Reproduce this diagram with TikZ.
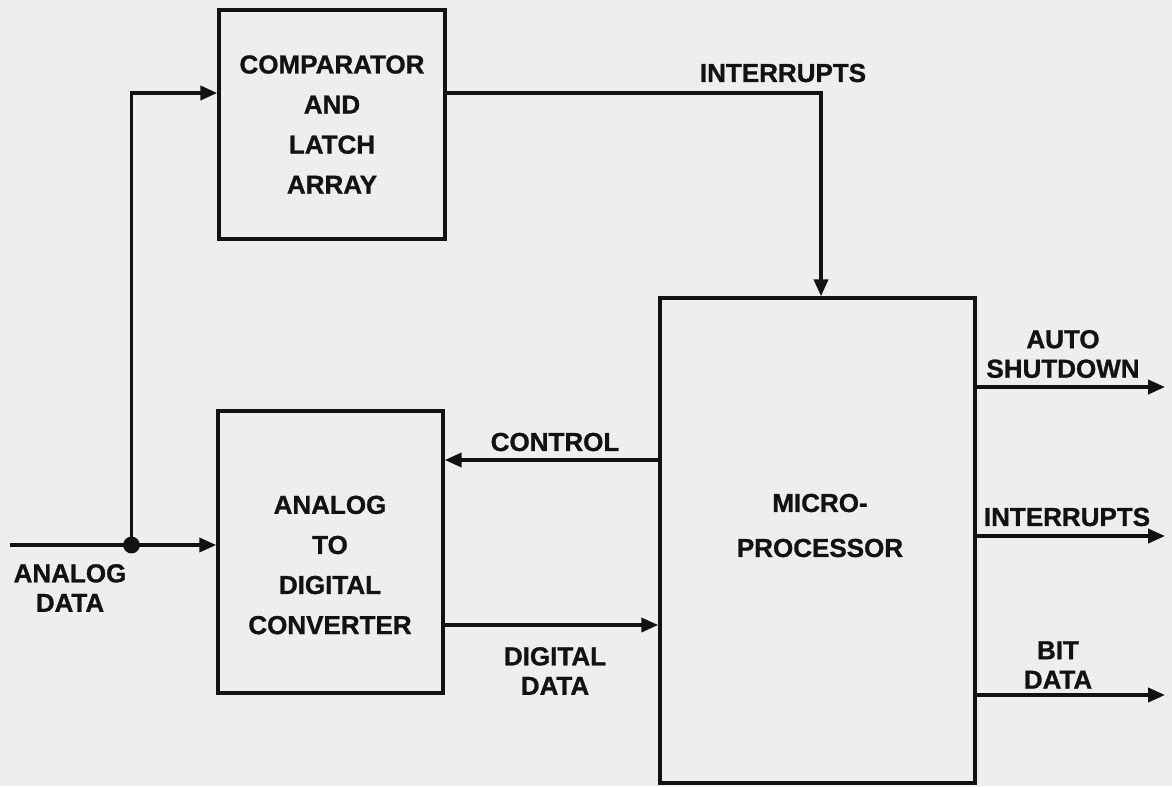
\documentclass[tikz,border=0pt]{standalone}
\usepackage{fontspec}
\setmainfont{Liberation Sans}[BoldFeatures={FakeBold=1}]
\usepackage{xcolor}
\usetikzlibrary{arrows.meta, positioning, calc}
\definecolor{paper}{HTML}{EEEEEC}
\definecolor{ink}{HTML}{121212}

\begin{document}
\begin{tikzpicture}[
    >={Triangle[length=12pt,width=10pt]},
    line width=2.5pt,
    color=ink,
    font=\fontsize{18.5}{28.5}\selectfont\bfseries,
    block/.style={draw, rectangle, align=center, inner sep=0pt},
    boxtext/.style={align=center, inner sep=0pt},
    sig/.style={align=center, inner sep=0pt, font=\fontsize{18.5}{21}\selectfont\bfseries}
  ]
  \fill[paper] (0,0) rectangle (29.3,-19.65);

  % blocks
  \node (comp) [block, minimum width=5.65cm, minimum height=5.725cm] at (8.3,-3.1125) {COMPARATOR\\AND\\LATCH\\ARRAY};
  \node (adc) [block, minimum width=5.625cm, minimum height=7.05cm] at (8.2625,-13.8) {};
  \node (adctext) [boxtext] at (8.25,-14.125) {ANALOG\\TO\\DIGITAL\\CONVERTER};
  \node (micro) [block, minimum width=7.875cm, minimum height=12.125cm] at (20.4375,-13.5125) {};
  \node (microtext) [boxtext, font=\fontsize{18.5}{32}\selectfont\bfseries] at (20.5,-13.1375) {MICRO-\\PROCESSOR};

  % connector ends and levels
  \coordinate (ain) at (0.25,-13.625);
  \coordinate (tap) at (3.2875,-13.625);
  \coordinate (ctop) at (3.2875,-2.325);
  \coordinate (ibend) at (20.525,-2.325);
  \coordinate (ctrly) at (0,-11.5);
  \coordinate (datay) at (0,-15.625);
  \coordinate (aout) at (29.125,-9.675);
  \coordinate (iout) at (29.125,-13.4);
  \coordinate (bout) at (29.125,-17.375);

  \draw[->] (ain) -- (ain -| adc.west);
  \fill (tap) circle (0.21);
  \draw[->] (tap) -- (ctop) -- (ctop -| comp.west);
  \draw[->] (ctop -| comp.east) -- (ibend) -- (ibend |- micro.north);
  \draw[->] (micro.west |- ctrly) -- (adc.east |- ctrly);
  \draw[->] (adc.east |- datay) -- (micro.west |- datay);
  \draw[->] (micro.east |- aout) -- (aout);
  \draw[->] (micro.east |- iout) -- (iout);
  \draw[->] (micro.east |- bout) -- (bout);

  % signal labels
  \node (analog) [sig] at (1.75,-14.7) {ANALOG\\DATA};
  \node (intin) [sig] at (19.575,-1.825) {INTERRUPTS};
  \node (ctrl) [sig] at (13.875,-11.05) {CONTROL};
  \node (digital) [sig] at (13.875,-16.775) {DIGITAL\\DATA};
  \node (shut) [sig] at (26.575,-8.85) {AUTO\\SHUTDOWN};
  \node (intout) [sig] at (26.675,-12.925) {INTERRUPTS};
  \node (bit) [sig] at (26.45,-16.625) {BIT\\DATA};
\end{tikzpicture}
\end{document}
